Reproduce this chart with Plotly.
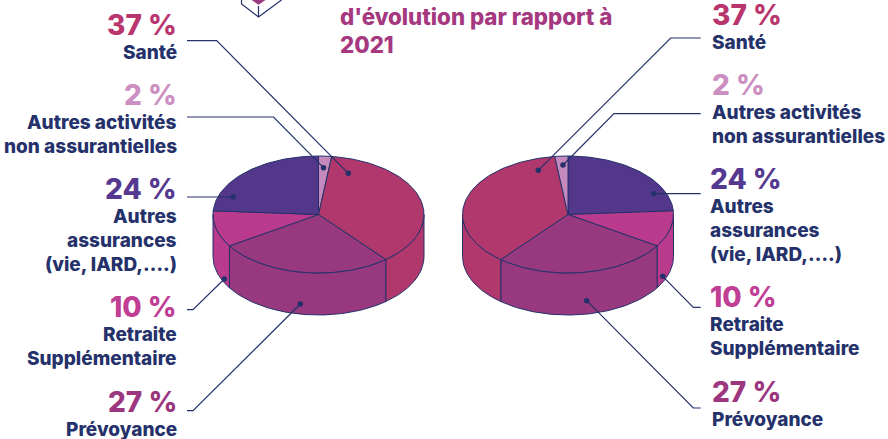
import numpy as np
import plotly.graph_objects as go

# ---- data (clockwise from 12 o'clock on the left-hand pie)
categories = ["Autres activités non assurantielles", "Santé", "Prévoyance",
              "Retraite Supplémentaire", "Autres assurances (vie, IARD,….)"]
left_values = [2, 37, 27, 10, 24]
right_values = [24, 10, 27, 37, 2]      # the right-hand pie is the mirror image
left_order = [0, 1, 2, 3, 4]
right_order = [4, 3, 2, 1, 0]

slice_colors = ["#C58ABD", "#B0386C", "#98387E", "#BA3B8D", "#53378B"]
pct_colors = ["#CC8FC2", "#B9356D", "#9B367F", "#C03E93", "#55388F"]
NAVY = "#25316A"
TITLE_COLOR = "#A5387F"
FONT = "Inter, Liberation Sans, sans-serif"

title_lines = ["d'évolution par rapport à", "2021"]
label_lines = {
    0: ["Autres activités", "non assurantielles"],
    1: ["Santé"],
    2: ["Prévoyance"],
    3: ["Retraite", "Supplémentaire"],
    4: ["Autres", "assurances", "(vie, IARD,….)"],
}
pct_text = {i: f"{left_values[i]} %" for i in range(5)}

# ---- layout geometry (pixels)
W, H = 888, 439
RX, RY, DEPTH = 105.5, 58.5, 42.0
CY = 214.5
LEFT_CX, RIGHT_CX = 318.5, 568.0


def arc(cx, cy, t0, t1):
    n = max(int(abs(t1 - t0) / 1.5) + 2, 3)
    t = np.radians(np.linspace(t0, t1, n))
    return cx + RX * np.sin(t), cy - RY * np.cos(t)


def pie(fig, cx, values, order):
    edges = np.concatenate([[0], np.cumsum(values)]) * 3.6
    # side walls first
    for i, k in enumerate(order):
        a, b = max(edges[i], 90), min(edges[i + 1], 270)
        if b <= a:
            continue
        x1, y1 = arc(cx, CY, a, b)
        x2, y2 = arc(cx, CY + DEPTH, b, a)
        fig.add_trace(go.Scatter(
            x=np.r_[x1, x2, x1[0]], y=np.r_[y1, y2, y1[0]], mode="lines",
            fill="toself", fillcolor=slice_colors[k],
            line=dict(color=NAVY, width=1), hoverinfo="skip"))
    # top face
    for i, k in enumerate(order):
        x1, y1 = arc(cx, CY, edges[i], edges[i + 1])
        fig.add_trace(go.Scatter(
            x=np.r_[cx, x1, cx], y=np.r_[CY, y1, CY], mode="lines",
            fill="toself", fillcolor=slice_colors[k],
            line=dict(color=NAVY, width=1), hoverinfo="text",
            text=f"{categories[k]} : {values[i]} %"))


fig = go.Figure()
pie(fig, LEFT_CX, left_values, left_order)
pie(fig, RIGHT_CX, right_values, right_order)

# leader lines: (x, y) paths in pixels, last point carries the dot
leaders = [
    [(187, 40.7), (216.7, 40.7), (348.3, 173.3)],
    [(187, 117), (273.5, 117), (323.5, 167.7)],
    [(187, 197), (233.3, 197)],
    [(187, 309.7), (193, 309.7), (224.3, 279)],
    [(187, 410.7), (193, 410.7), (300.3, 304)],
    [(700.7, 38), (670.7, 38), (538.3, 170.3)],
    [(700.7, 113.7), (614, 113.7), (563, 165)],
    [(700.7, 193.7), (653.7, 193.7)],
    [(700.7, 307.3), (693.3, 307.3), (662.7, 276.3)],
    [(700.7, 408), (693.3, 408), (586.7, 300.7)],
]
for path in leaders:
    xs, ys = zip(*path)
    fig.add_trace(go.Scatter(x=xs, y=ys, mode="lines", line=dict(color=NAVY, width=1.2),
                             hoverinfo="skip"))
    fig.add_trace(go.Scatter(x=[xs[-1]], y=[ys[-1]], mode="markers",
                             marker=dict(color=NAVY, size=5.5), hoverinfo="skip"))

# cropped cube icon at the top
fig.add_trace(go.Scatter(x=[252, 258.5, 265, 252], y=[0, 4.5, 0, 0], mode="lines", fill="toself",
                         fillcolor="#98387E", line=dict(color="#98387E", width=0.5), hoverinfo="skip"))
fig.add_trace(go.Scatter(x=[241.5, 241.5, 258.5, 281.5], y=[0, 4, 17, 0], mode="lines",
                         line=dict(color=NAVY, width=1.2), hoverinfo="skip"))
fig.add_trace(go.Scatter(x=[258.5, 258.5], y=[6, 17], mode="lines",
                         line=dict(color=NAVY, width=1.2), hoverinfo="skip"))

ann = []


def text(x, y, s, size, color, anchor, weight=800):
    ann.append(dict(x=x, y=y, text=s, showarrow=False, xanchor=anchor, yanchor="middle",
                    xref="x", yref="y", align=anchor,
                    font=dict(family=FONT, size=size, color=color, weight=weight),
                    borderpad=0, borderwidth=0))


PCT, LBL = 28, 19
# left column: percent y, first label line y
RL = 176.5
for k, py, ly in [(1, 24.5, 52), (0, 94.5, 122), (4, 188.5, 216), (3, 306.5, 334), (2, 401.5, 429)]:
    text(RL, py, pct_text[k], PCT, pct_colors[k], "right")
    for n, line in enumerate(label_lines[k]):
        text(RL, ly + 24 * n, line, LBL, NAVY, "right")
# right column
for k, x, py, ly in [(1, 712.0, 14.5, 42), (0, 712.0, 85, 112), (4, 710.0, 179, 206),
                     (3, 710.0, 296.5, 324), (2, 712.0, 391.5, 419)]:
    text(x, py, pct_text[k], PCT, pct_colors[k], "left")
    for n, line in enumerate(label_lines[k]):
        text(x, ly + 24 * n, line, LBL, NAVY, "left")
# heading
text(340, 16, title_lines[0], 22.3, TITLE_COLOR, "left")
text(340, 44, title_lines[1], 22.3, TITLE_COLOR, "left")

fig.update_layout(
    width=W, height=H, margin=dict(l=0, r=0, t=0, b=0), showlegend=False,
    paper_bgcolor="white", plot_bgcolor="white", annotations=ann,
    xaxis=dict(range=[0, W], visible=False, fixedrange=True),
    yaxis=dict(range=[H, 0], visible=False, fixedrange=True),
)
fig.write_html("out.html", config={"displayModeBar": False},
               post_script="document.body.style.margin='0';document.documentElement.style.overflow='hidden';")
